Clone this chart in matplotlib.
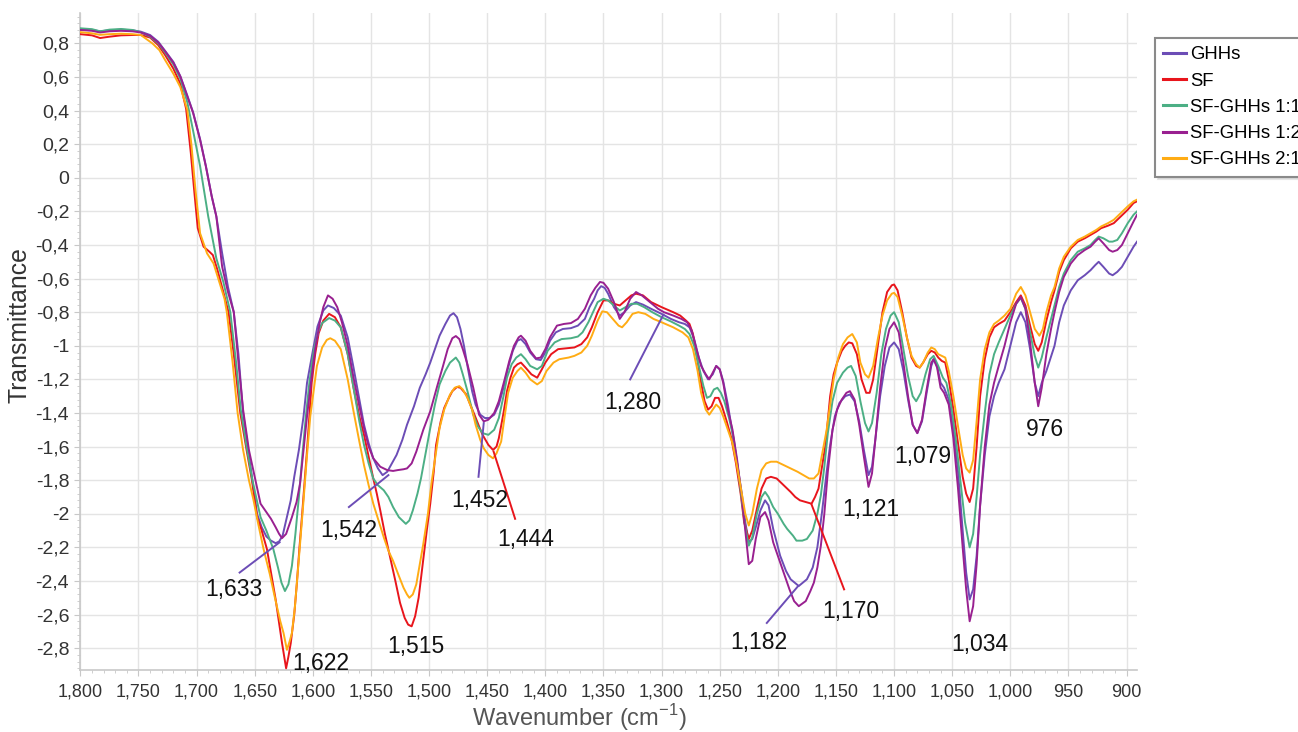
import matplotlib
matplotlib.use("Agg")
import matplotlib.pyplot as plt
from matplotlib.ticker import MultipleLocator, FuncFormatter

plt.rcParams['font.family'] = ['Liberation Sans', 'DejaVu Sans']

# FTIR spectra, (wavenumber cm-1, transmittance)
ghhs = [(1800, 0.885), (1790, 0.88), (1783, 0.872), (1775, 0.878), (1765, 0.882), (1755, 0.878),
        (1748, 0.87), (1740, 0.85), (1733, 0.81), (1727, 0.755), (1720, 0.69), (1714, 0.605),
        (1708, 0.49), (1703, 0.39), (1697, 0.23), (1692, 0.07), (1687, -0.11), (1683, -0.23),
        (1678, -0.45), (1673, -0.65), (1668, -0.8), (1664, -1.05), (1660, -1.4), (1656, -1.6),
        (1652, -1.8), (1648, -2.0), (1644, -2.08), (1640, -2.135), (1636, -2.16), (1632, -2.175),
        (1629, -2.165), (1626, -2.13), (1623, -2.04), (1619, -1.92), (1616, -1.78), (1612, -1.62),
        (1608, -1.42), (1605, -1.22), (1600, -1.03), (1596, -0.885), (1591, -0.79), (1587, -0.76),
        (1582, -0.775), (1576, -0.82), (1570, -0.95), (1565, -1.13), (1560, -1.32), (1556, -1.47),
        (1552, -1.58), (1548, -1.67), (1544, -1.73), (1540, -1.77), (1536, -1.75), (1532, -1.7),
        (1528, -1.65), (1523, -1.56), (1519, -1.47), (1513, -1.36), (1508, -1.25), (1503, -1.17),
        (1499, -1.10), (1495, -1.02), (1491, -0.94), (1486, -0.87), (1482, -0.82), (1479, -0.806),
        (1476, -0.83), (1473, -0.90), (1470, -1.0), (1467, -1.12), (1463, -1.27), (1460, -1.35),
        (1456, -1.41), (1452, -1.43), (1448, -1.43), (1444, -1.41), (1440, -1.35), (1436, -1.25),
        (1432, -1.13), (1428, -1.03), (1424, -0.97), (1421, -0.96), (1417, -0.99), (1413, -1.04),
        (1408, -1.08), (1404, -1.085), (1400, -1.04), (1396, -0.97), (1391, -0.92), (1385, -0.9),
        (1378, -0.895), (1372, -0.88), (1366, -0.84), (1362, -0.77), (1358, -0.72), (1355, -0.67),
        (1352, -0.645), (1349, -0.655), (1346, -0.69), (1341, -0.77), (1336, -0.82), (1332, -0.8),
        (1327, -0.76), (1322, -0.74), (1316, -0.755), (1309, -0.78), (1300, -0.81), (1292, -0.84),
        (1285, -0.86), (1280, -0.87), (1276, -0.89), (1272, -0.96), (1268, -1.07), (1264, -1.15),
        (1260, -1.2), (1256, -1.17), (1253, -1.12), (1250, -1.14), (1247, -1.21), (1243, -1.35),
        (1239, -1.52), (1235, -1.7), (1231, -1.88), (1228, -2.05), (1225, -2.17), (1222, -2.15),
        (1219, -2.08), (1215, -1.98), (1211, -1.92), (1208, -1.95), (1204, -2.09), (1198, -2.25),
        (1193, -2.34), (1189, -2.39), (1182, -2.43), (1175, -2.39), (1170, -2.32), (1166, -2.2),
        (1162, -1.99), (1158, -1.75), (1155, -1.59), (1151, -1.42), (1147, -1.34), (1142, -1.30),
        (1138, -1.29), (1134, -1.33), (1130, -1.45), (1126, -1.62), (1122, -1.77), (1119, -1.72),
        (1116, -1.55), (1112, -1.3), (1108, -1.12), (1104, -1.01), (1100, -0.98), (1096, -1.02),
        (1092, -1.15), (1088, -1.32), (1084, -1.47), (1080, -1.52), (1076, -1.45), (1072, -1.28),
        (1068, -1.12), (1066, -1.08), (1063, -1.12), (1060, -1.22), (1057, -1.25), (1053, -1.32),
        (1049, -1.5), (1045, -1.75), (1041, -2.1), (1038, -2.35), (1035, -2.51), (1032, -2.45),
        (1029, -2.25), (1026, -1.95), (1022, -1.65), (1018, -1.42), (1014, -1.3), (1010, -1.22),
        (1005, -1.14), (1000, -1.0), (995, -0.86), (991, -0.80), (987, -0.86), (983, -1.02),
        (979, -1.22), (976, -1.30), (973, -1.22), (969, -1.15), (962, -1.0), (958, -0.86),
        (954, -0.76), (948, -0.67), (942, -0.61), (936, -0.58), (931, -0.55), (927, -0.52),
        (924, -0.50), (920, -0.53), (915, -0.57), (912, -0.58), (908, -0.56), (904, -0.53),
        (899, -0.47), (894, -0.41), (891, -0.38)]

sf = [(1800, 0.855), (1790, 0.848), (1783, 0.832), (1775, 0.84), (1765, 0.848), (1755, 0.85),
      (1748, 0.85), (1740, 0.835), (1733, 0.79), (1727, 0.73), (1720, 0.65), (1714, 0.56),
      (1709, 0.41), (1705, 0.15), (1702, -0.08), (1699, -0.3), (1694, -0.41), (1689, -0.44),
      (1686, -0.46), (1682, -0.55), (1677, -0.68), (1672.5, -0.8), (1668, -1.05), (1662.4, -1.4),
      (1657, -1.62), (1652.4, -1.8), (1648, -2.02), (1644, -2.1), (1639.5, -2.21), (1636, -2.35),
      (1632, -2.51), (1629, -2.65), (1626.5, -2.77), (1623, -2.92), (1621, -2.85), (1619, -2.77),
      (1616, -2.6), (1613.7, -2.41), (1611.5, -2.2), (1609.4, -2.02), (1605, -1.62), (1601, -1.22),
      (1598, -1.05), (1595, -0.925), (1591, -0.85), (1586, -0.81), (1581, -0.83), (1576, -0.89),
      (1570, -1.05), (1565, -1.25), (1560, -1.42), (1556, -1.53), (1552, -1.66), (1548, -1.79),
      (1545, -1.88), (1542, -1.98), (1538, -2.12), (1533.5, -2.26), (1529, -2.4), (1525, -2.53),
      (1521, -2.62), (1518, -2.66), (1515, -2.67), (1512, -2.61), (1509, -2.5), (1505, -2.27),
      (1502, -2.1), (1499, -1.94), (1496, -1.75), (1494, -1.59), (1490, -1.45), (1487, -1.37),
      (1483, -1.31), (1480, -1.27), (1476, -1.245), (1473, -1.25), (1468, -1.29), (1464, -1.36),
      (1461, -1.41), (1457, -1.48), (1454, -1.53), (1449, -1.59), (1445, -1.62), (1442, -1.6),
      (1440, -1.55), (1436, -1.4), (1433, -1.27), (1430, -1.19), (1427, -1.13), (1424, -1.11),
      (1421, -1.10), (1417, -1.13), (1412, -1.17), (1407, -1.19), (1403, -1.14), (1400, -1.1),
      (1395, -1.05), (1389, -1.02), (1382, -1.015), (1375, -1.01), (1369, -0.99), (1364, -0.95),
      (1360, -0.89), (1355, -0.8), (1350, -0.73), (1346, -0.73), (1341, -0.75), (1336, -0.76),
      (1331, -0.73), (1326, -0.70), (1322, -0.69), (1316, -0.70), (1309, -0.74), (1300, -0.77),
      (1290, -0.80), (1284, -0.82), (1279, -0.85), (1276, -0.87), (1273, -0.93), (1270, -1.05),
      (1266, -1.22), (1263, -1.33), (1260, -1.38), (1257, -1.36), (1254, -1.31), (1251, -1.31),
      (1248, -1.36), (1244, -1.45), (1240, -1.55), (1236, -1.7), (1232, -1.88), (1229, -2.05),
      (1225, -2.15), (1222, -2.1), (1218, -1.97), (1214, -1.85), (1210, -1.79), (1206, -1.78),
      (1201, -1.79), (1195, -1.83), (1189, -1.87), (1185, -1.9), (1181, -1.92), (1176, -1.93),
      (1171, -1.94), (1168, -1.9), (1165, -1.85), (1162, -1.72), (1159, -1.59), (1155, -1.30),
      (1152, -1.17), (1149, -1.10), (1145, -1.03), (1142, -1.0), (1139, -0.98), (1136, -0.985),
      (1132, -1.05), (1128, -1.2), (1124, -1.28), (1121, -1.28), (1118, -1.2), (1114, -1.0),
      (1110, -0.8), (1106, -0.68), (1102, -0.64), (1100, -0.635), (1097, -0.67), (1093, -0.8),
      (1089, -0.95), (1085, -1.07), (1081, -1.12), (1078, -1.13), (1075, -1.10), (1071, -1.05),
      (1068, -1.03), (1065, -1.04), (1062, -1.07), (1059, -1.09), (1056, -1.1), (1053, -1.2),
      (1049, -1.38), (1045, -1.58), (1041, -1.78), (1038, -1.88), (1035, -1.93), (1032, -1.85),
      (1029, -1.6), (1026, -1.3), (1022, -1.08), (1018, -0.95), (1014, -0.89), (1010, -0.87),
      (1005, -0.85), (1000, -0.8), (995, -0.74), (991, -0.70), (987, -0.76), (983, -0.88),
      (979, -0.99), (976, -1.03), (973, -0.98), (969, -0.85), (965, -0.74), (962, -0.67),
      (958, -0.56), (954, -0.49), (948, -0.42), (942, -0.38), (936, -0.36), (931, -0.34),
      (926, -0.32), (922, -0.30), (916, -0.285), (911, -0.27), (905, -0.23), (899, -0.19),
      (894, -0.15), (891, -0.14)]

sf_ghhs_11 = [(1800, 0.89), (1790, 0.885), (1783, 0.872), (1775, 0.882), (1765, 0.886), (1755, 0.88),
              (1748, 0.866), (1740, 0.84), (1733, 0.80), (1727, 0.745), (1720, 0.675), (1714, 0.59),
              (1708, 0.45), (1703, 0.28), (1697, 0.07), (1690, -0.23), (1683, -0.48), (1677, -0.62),
              (1671, -0.8), (1666, -1.1), (1662, -1.38), (1657, -1.6), (1652, -1.8), (1645, -2.02),
              (1640, -2.1), (1634, -2.21), (1630, -2.32), (1627, -2.41), (1624, -2.46), (1621, -2.42),
              (1618, -2.31), (1615, -2.12), (1612, -1.9), (1609, -1.65), (1606, -1.42), (1603, -1.22),
              (1599, -1.02), (1595, -0.91), (1592, -0.865), (1586, -0.835), (1581, -0.85), (1576, -0.89),
              (1570, -1.05), (1565, -1.25), (1560, -1.45), (1556, -1.59), (1552, -1.7), (1548, -1.79),
              (1544, -1.83), (1539, -1.86), (1535, -1.9), (1531, -1.96), (1526, -2.02), (1520, -2.06),
              (1517, -2.04), (1514, -1.98), (1510, -1.88), (1507, -1.79), (1503, -1.64), (1499, -1.49),
              (1495, -1.35), (1491, -1.23), (1486, -1.15), (1482, -1.1), (1477, -1.07), (1474, -1.1),
              (1471, -1.17), (1467, -1.27), (1462, -1.41), (1458, -1.48), (1454, -1.52), (1449, -1.53),
              (1444, -1.5), (1440, -1.43), (1436, -1.3), (1433, -1.19), (1429, -1.11), (1425, -1.07),
              (1421, -1.05), (1417, -1.08), (1413, -1.12), (1407, -1.14), (1403, -1.12), (1398, -1.03),
              (1392, -0.98), (1386, -0.96), (1378, -0.955), (1372, -0.945), (1368, -0.92), (1363, -0.86),
              (1359, -0.8), (1355, -0.74), (1350, -0.72), (1346, -0.73), (1341, -0.76), (1336, -0.79),
              (1331, -0.77), (1326, -0.75), (1321, -0.75), (1315, -0.77), (1308, -0.80), (1300, -0.83),
              (1292, -0.855), (1285, -0.88), (1280, -0.9), (1276, -0.93), (1272, -1.0), (1268, -1.12),
              (1264, -1.24), (1261, -1.31), (1258, -1.3), (1255, -1.26), (1252, -1.25), (1249, -1.28),
              (1246, -1.33), (1242, -1.43), (1238, -1.55), (1234, -1.75), (1231, -1.92), (1228, -2.08),
              (1225, -2.19), (1222, -2.14), (1218, -2.0), (1214, -1.9), (1211, -1.87), (1208, -1.9),
              (1204, -1.96), (1200, -2.0), (1195, -2.06), (1192, -2.09), (1187, -2.13), (1184, -2.16),
              (1179, -2.16), (1175, -2.15), (1170, -2.1), (1166, -2.0), (1163, -1.89), (1160, -1.72),
              (1157, -1.52), (1153, -1.33), (1149, -1.22), (1144, -1.16), (1140, -1.13), (1137, -1.12),
              (1133, -1.18), (1129, -1.33), (1125, -1.46), (1122, -1.51), (1119, -1.46), (1115, -1.28),
              (1111, -1.05), (1107, -0.9), (1103, -0.82), (1100, -0.80), (1096, -0.86), (1092, -1.02),
              (1088, -1.18), (1084, -1.3), (1081, -1.33), (1077, -1.28), (1073, -1.17), (1069, -1.08),
              (1066, -1.06), (1062, -1.12), (1058, -1.19), (1055, -1.22), (1051, -1.35), (1047, -1.55),
              (1043, -1.8), (1039, -2.05), (1035, -2.2), (1032, -2.12), (1029, -1.9), (1026, -1.65),
              (1022, -1.4), (1018, -1.17), (1014, -1.05), (1010, -0.98), (1005, -0.9), (1000, -0.82),
              (995, -0.75), (991, -0.715), (987, -0.78), (983, -0.92), (979, -1.06), (976, -1.13),
              (973, -1.07), (969, -0.95), (965, -0.84), (962, -0.76), (958, -0.65), (954, -0.57),
              (948, -0.49), (942, -0.44), (936, -0.42), (931, -0.40), (927, -0.37), (924, -0.35),
              (920, -0.36), (915, -0.38), (912, -0.38), (908, -0.37), (904, -0.33), (899, -0.27),
              (894, -0.22), (891, -0.2)]

sf_ghhs_12 = [(1800, 0.88), (1790, 0.875), (1783, 0.865), (1775, 0.872), (1765, 0.875), (1755, 0.872),
              (1748, 0.865), (1740, 0.845), (1733, 0.805), (1727, 0.752), (1720, 0.685), (1714, 0.603),
              (1708, 0.484), (1703, 0.386), (1697, 0.226), (1692, 0.067), (1687, -0.11), (1683, -0.23),
              (1678, -0.53), (1673, -0.68), (1668, -0.8), (1664, -1.1), (1660, -1.38), (1655, -1.62),
              (1650, -1.78), (1645, -1.94), (1640, -1.99), (1636, -2.03), (1632, -2.08), (1629, -2.12),
              (1626.5, -2.145), (1623, -2.12), (1620, -2.06), (1618, -2.02), (1614, -1.93), (1611, -1.82),
              (1608, -1.62), (1605, -1.42), (1601, -1.18), (1598, -1.02), (1594, -0.86), (1591, -0.77),
              (1587, -0.70), (1583, -0.72), (1579, -0.77), (1575, -0.86), (1570, -1.0), (1565, -1.19),
              (1560, -1.36), (1556, -1.49), (1552, -1.6), (1548, -1.67), (1542, -1.72), (1536, -1.74),
              (1531, -1.745), (1527, -1.74), (1522, -1.735), (1519, -1.73), (1515, -1.7), (1511, -1.63),
              (1505, -1.5), (1499, -1.39), (1493, -1.24), (1488, -1.12), (1484, -1.02), (1480, -0.955),
              (1477, -0.942), (1474, -0.96), (1471, -1.02), (1467, -1.11), (1462, -1.25), (1457, -1.41),
              (1453, -1.45), (1449, -1.44), (1444, -1.40), (1440, -1.33), (1435, -1.2), (1431, -1.09),
              (1427, -1.0), (1423, -0.95), (1421, -0.94), (1417, -0.97), (1413, -1.03), (1408, -1.075),
              (1404, -1.07), (1400, -1.02), (1396, -0.95), (1390, -0.88), (1384, -0.87), (1378, -0.865),
              (1372, -0.84), (1366, -0.78), (1361, -0.7), (1357, -0.655), (1353, -0.62), (1350, -0.625),
              (1346, -0.66), (1341, -0.74), (1336, -0.84), (1332, -0.8), (1327, -0.72), (1322, -0.68),
              (1317, -0.70), (1310, -0.74), (1303, -0.78), (1298, -0.80), (1290, -0.82), (1283, -0.84),
              (1278, -0.86), (1274, -0.91), (1270, -1.02), (1266, -1.12), (1262, -1.17), (1259, -1.2),
              (1256, -1.16), (1253, -1.12), (1250, -1.14), (1247, -1.22), (1243, -1.38), (1239, -1.5),
              (1235, -1.68), (1231, -1.9), (1228, -2.1), (1225, -2.3), (1222, -2.28), (1219, -2.15),
              (1215, -2.02), (1211, -1.99), (1208, -2.04), (1204, -2.17), (1199, -2.27), (1195, -2.35),
              (1190, -2.45), (1186, -2.52), (1182, -2.55), (1176, -2.52), (1172, -2.46), (1169, -2.41),
              (1166, -2.32), (1163, -2.19), (1160, -2.0), (1157, -1.75), (1153, -1.5), (1149, -1.38),
              (1145, -1.32), (1141, -1.28), (1138, -1.27), (1134, -1.32), (1130, -1.47), (1126, -1.66),
              (1122, -1.84), (1119, -1.76), (1116, -1.55), (1112, -1.25), (1108, -1.02), (1104, -0.9),
              (1100, -0.86), (1096, -0.92), (1092, -1.1), (1088, -1.3), (1084, -1.47), (1080, -1.52),
              (1076, -1.44), (1072, -1.26), (1068, -1.1), (1066, -1.08), (1063, -1.13), (1060, -1.25),
              (1057, -1.28), (1053, -1.35), (1049, -1.55), (1045, -1.85), (1041, -2.2), (1038, -2.45),
              (1035, -2.64), (1032, -2.55), (1029, -2.3), (1026, -1.95), (1022, -1.6), (1018, -1.35),
              (1014, -1.22), (1010, -1.12), (1005, -1.0), (1000, -0.86), (995, -0.75), (991, -0.71),
              (987, -0.78), (983, -0.98), (979, -1.22), (976, -1.36), (973, -1.25), (969, -1.05),
              (965, -0.9), (962, -0.80), (958, -0.68), (954, -0.59), (948, -0.51), (942, -0.46),
              (936, -0.43), (931, -0.41), (927, -0.38), (924, -0.36), (920, -0.39), (915, -0.43),
              (912, -0.44), (908, -0.43), (904, -0.40), (899, -0.33), (894, -0.26), (891, -0.22)]

sf_ghhs_21 = [(1800, 0.867), (1790, 0.86), (1783, 0.851), (1775, 0.855), (1765, 0.858), (1755, 0.855),
              (1748, 0.85), (1744, 0.83), (1738, 0.8), (1732, 0.76), (1727, 0.70), (1720, 0.62),
              (1714, 0.54), (1708, 0.405), (1704.5, 0.2), (1701, -0.07), (1697, -0.33), (1691, -0.45),
              (1685.4, -0.51), (1680, -0.63), (1676, -0.72), (1674, -0.8), (1669, -1.1), (1664.7, -1.4),
              (1660, -1.62), (1655, -1.8), (1651, -1.92), (1647, -2.06), (1642.4, -2.21), (1637, -2.36),
              (1632.3, -2.51), (1628, -2.64), (1625.2, -2.71), (1622.3, -2.81), (1620, -2.76), (1618, -2.71),
              (1615.5, -2.56), (1613.7, -2.41), (1611, -2.18), (1608, -1.92), (1605, -1.65), (1602.2, -1.42),
              (1599, -1.25), (1596.5, -1.12), (1592, -1.01), (1588, -0.965), (1585, -0.955), (1581, -0.97),
              (1576, -1.02), (1570, -1.2), (1565, -1.39), (1560, -1.57), (1556, -1.71), (1552, -1.83),
              (1548, -1.94), (1543, -2.05), (1539, -2.14), (1535, -2.22), (1531, -2.28), (1526, -2.37),
              (1522, -2.44), (1519, -2.48), (1517, -2.50), (1514, -2.48), (1511, -2.42), (1508, -2.3),
              (1505, -2.18), (1501, -2.0), (1498, -1.82), (1494, -1.63), (1491, -1.49), (1487, -1.38),
              (1482, -1.29), (1478, -1.25), (1474, -1.24), (1471, -1.26), (1467, -1.31), (1463, -1.38),
              (1460, -1.47), (1456, -1.56), (1453, -1.61), (1449, -1.65), (1445, -1.67), (1442, -1.64),
              (1438, -1.57), (1435, -1.42), (1432, -1.28), (1428, -1.19), (1424, -1.15), (1421, -1.13),
              (1417, -1.16), (1413, -1.2), (1407, -1.23), (1403, -1.21), (1399, -1.15), (1393, -1.1),
              (1388, -1.08), (1380, -1.07), (1375, -1.06), (1369, -1.04), (1364, -1.0), (1360, -0.94),
              (1355, -0.85), (1351, -0.795), (1347, -0.80), (1342, -0.84), (1337, -0.88), (1334, -0.89),
              (1330, -0.86), (1325, -0.81), (1320, -0.80), (1314, -0.81), (1307, -0.84), (1300, -0.86),
              (1290, -0.89), (1282, -0.92), (1277, -0.95), (1273, -1.02), (1269, -1.15), (1266, -1.28),
              (1262, -1.38), (1259, -1.41), (1256, -1.38), (1253, -1.35), (1250, -1.37), (1247, -1.42),
              (1243, -1.5), (1239, -1.58), (1235, -1.72), (1231, -1.88), (1228, -2.0), (1225, -2.07),
              (1222, -2.0), (1218, -1.85), (1214, -1.74), (1210, -1.70), (1206, -1.69), (1201, -1.69),
              (1195, -1.71), (1189, -1.73), (1183, -1.75), (1178, -1.77), (1173, -1.79), (1169, -1.79),
              (1165, -1.76), (1162, -1.65), (1158, -1.5), (1155, -1.35), (1152, -1.2), (1148, -1.07),
              (1144, -0.99), (1140, -0.95), (1136, -0.93), (1132, -0.98), (1129, -1.1), (1125, -1.17),
              (1122, -1.19), (1118, -1.12), (1114, -0.96), (1110, -0.82), (1106, -0.73), (1102, -0.69),
              (1100, -0.685), (1097, -0.71), (1093, -0.82), (1089, -0.95), (1085, -1.06), (1081, -1.11),
              (1078, -1.13), (1075, -1.1), (1071, -1.04), (1068, -1.01), (1065, -1.02), (1062, -1.05),
              (1059, -1.06), (1056, -1.07), (1053, -1.15), (1049, -1.3), (1045, -1.48), (1041, -1.65),
              (1038, -1.73), (1035, -1.755), (1032, -1.68), (1029, -1.45), (1026, -1.2), (1022, -1.02),
              (1018, -0.92), (1014, -0.87), (1010, -0.85), (1005, -0.82), (1000, -0.78), (995, -0.69),
              (991, -0.65), (987, -0.7), (983, -0.8), (979, -0.9), (975, -0.94), (972, -0.9),
              (969, -0.8), (965, -0.7), (962, -0.65), (958, -0.54), (954, -0.47), (948, -0.41),
              (942, -0.37), (936, -0.35), (931, -0.33), (926, -0.31), (922, -0.29), (916, -0.27),
              (911, -0.25), (905, -0.21), (899, -0.17), (894, -0.14), (891, -0.13)]

series = [("GHHs", ghhs, "#6c4db6"),
          ("SF", sf, "#e8151c"),
          ("SF-GHHs 1:1", sf_ghhs_11, "#4caf85"),
          ("SF-GHHs 1:2", sf_ghhs_12, "#992090"),
          ("SF-GHHs 2:1", sf_ghhs_21, "#ffac14")]

# peak labels: text, text position, leader line (from, to) or None, line colour
peak_labels = [("1,633", (1668, -2.45), ((1663, -2.35), (1628.6, -2.17)), "#6c4db6"),
               ("1,622", (1593, -2.89), None, None),
               ("1,542", (1569.5, -2.10), ((1569, -1.96), (1535, -1.77)), "#6c4db6"),
               ("1,515", (1511.5, -2.79), None, None),
               ("1,452", (1456, -1.92), ((1457.5, -1.78), (1453, -1.46)), "#6c4db6"),
               ("1,444", (1416.5, -2.155), ((1426, -2.03), (1444.5, -1.63)), "#e8151c"),
               ("1,280", (1325, -1.34), ((1327, -1.20), (1298.5, -0.815)), "#6c4db6"),
               ("1,182", (1216, -2.765), ((1209.5, -2.65), (1182.5, -2.43)), "#6c4db6"),
               ("1,170", (1137, -2.58), ((1143, -2.45), (1171, -1.945)), "#e8151c"),
               ("1,121", (1120, -1.975), None, None),
               ("1,079", (1075.5, -1.66), None, None),
               ("1,034", (1026, -2.78), None, None),
               ("976", (970, -1.50), None, None)]

fig = plt.figure(figsize=(12.98, 7.32), dpi=100)
ax = fig.add_axes([0.0619, 0.0847, 0.8141, 0.8973])

for name, pts, col in series:
    wn = [p[0] for p in pts]
    tr = [p[1] for p in pts]
    ax.plot(wn, tr, color=col, lw=1.4, label=name, zorder=3)

for txt, pos, leader, col in peak_labels:
    if leader is not None:
        ax.plot([leader[0][0], leader[1][0]], [leader[0][1], leader[1][1]],
                color=col, lw=1.4, zorder=4)
    ax.text(pos[0], pos[1], txt, ha='center', va='center', fontsize=16.5,
            color='#111111', zorder=5)

ax.set_xlim(1800, 891)
ax.set_ylim(-2.93, 0.98)

ax.xaxis.set_major_locator(MultipleLocator(50))
ax.xaxis.set_minor_locator(MultipleLocator(10))
ax.yaxis.set_major_locator(MultipleLocator(0.2))
ax.yaxis.set_minor_locator(MultipleLocator(0.04))


def fmt_x(v, pos):
    return "{:,.0f}".format(v)


def fmt_y(v, pos):
    r = round(v, 1)
    if abs(r - round(r)) < 1e-9:
        return "{:d}".format(int(round(r)))
    return "{:.1f}".format(r).replace('.', ',')


ax.xaxis.set_major_formatter(FuncFormatter(fmt_x))
ax.yaxis.set_major_formatter(FuncFormatter(fmt_y))

ax.grid(True, which='major', color='#e4e4e4', lw=1.0, zorder=0)
for s in ['top', 'right']:
    ax.spines[s].set_visible(False)
for s in ['left', 'bottom']:
    ax.spines[s].set_color('#c8c8c8')
    ax.spines[s].set_linewidth(1.2)

ax.tick_params(axis='x', which='major', labelsize=13, labelcolor='#333333',
               color='#c8c8c8', length=4, pad=6)
ax.tick_params(axis='y', which='major', labelsize=14, labelcolor='#333333',
               color='#c8c8c8', length=4, pad=4)
ax.tick_params(axis='both', which='minor', color='#c8c8c8', length=2.5)

ax.set_ylabel("Transmittance", fontsize=17.8, color='#333333')
ax.yaxis.set_label_coords(-0.046, 0.525)
fig.text(579 / 1298, 1 - 718 / 732, "Wavenumber (cm$^{\\mathregular{-1}}$)",
         fontsize=17, color='#555555', ha='center', va='center')

# legend box sits at the right edge and runs past it, as in the original
leg = ax.legend(loc='upper left', bbox_to_anchor=(1155 / 1298, 1 - 38 / 732),
                bbox_transform=fig.transFigure, fontsize=13.3, frameon=True,
                fancybox=False, edgecolor='#8a8a8a', handlelength=1.25,
                handletextpad=0.2, labelspacing=0.5, borderpad=0.45,
                borderaxespad=0, shadow={'color': '0.8'})
leg.get_frame().set_linewidth(1.5)
for h in leg.get_lines():
    h.set_linewidth(2.2)

fig.savefig("out.png", dpi=100)
